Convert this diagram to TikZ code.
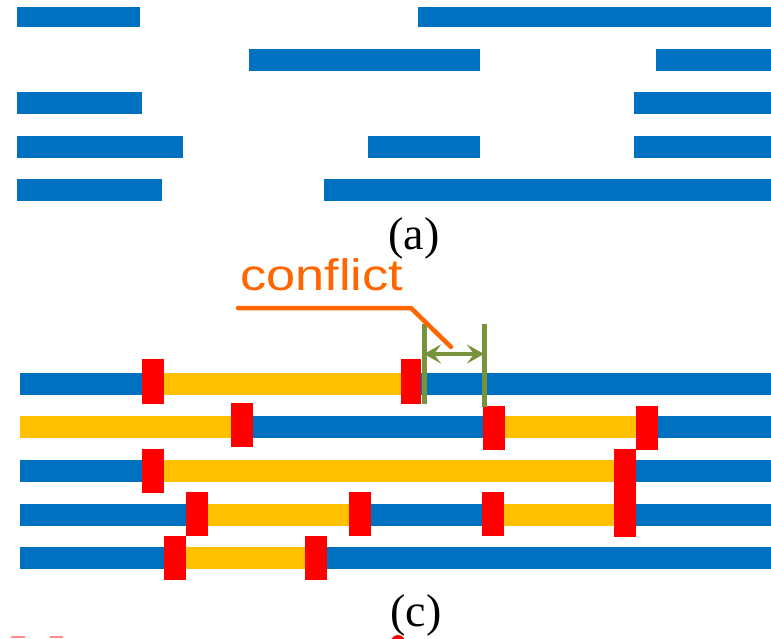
\documentclass[tikz,border=0pt]{standalone}
\usepackage{fontspec}
\setmainfont{Liberation Serif}
\newfontfamily\notefont{Liberation Sans}
\usetikzlibrary{arrows.meta}
\definecolor{segblue}{RGB}{0,112,192}
\definecolor{segyellow}{RGB}{255,192,0}
\definecolor{cutred}{RGB}{255,0,0}
\definecolor{gapgreen}{RGB}{119,147,60}
\definecolor{noteorange}{RGB}{255,102,0}

\begin{document}
\begin{tikzpicture}[x=1pt, y=-1pt,
	seg/.style={fill=segblue},
	busy/.style={fill=segyellow},
	cut/.style={fill=cutred},
	gapline/.style={draw=gapgreen, line width=5pt},
	gaptip/.tip={Stealth[length=17pt,width=19pt,inset=7pt]},
	caption/.style={font=\fontsize{46}{46}\selectfont, inner sep=0pt, anchor=base}]
	\clip (0,0) rectangle (771,638);
	
	% 1. upper panel: free segments
	\fill[seg] (17,7) rectangle (140,27);
	\fill[seg] (418,7) rectangle (771,27);
	\fill[seg] (249,49) rectangle (480,71);
	\fill[seg] (656,49) rectangle (771,71);
	\fill[seg] (17,92) rectangle (142,114);
	\fill[seg] (634,92) rectangle (771,114);
	\fill[seg] (17,136) rectangle (183,158);
	\fill[seg] (368,136) rectangle (480,158);
	\fill[seg] (634,136) rectangle (771,158);
	\fill[seg] (17,179) rectangle (162,201);
	\fill[seg] (324,179) rectangle (771,201);
	\node[caption] (capA) at (414,249) {(a)};
	
	% 2. lower panel: full rows
	\fill[seg] (20,373) rectangle (771,395);
	\fill[seg] (20,416) rectangle (771,438);
	\fill[seg] (20,460) rectangle (771,482);
	\fill[seg] (20,504) rectangle (771,526);
	\fill[seg] (20,547) rectangle (771,569);
	
	% occupied parts
	\fill[busy] (164,373) rectangle (401,395);
	\fill[busy] (20,416) rectangle (231,438);
	\fill[busy] (505,416) rectangle (636,438);
	\fill[busy] (164,460) rectangle (614,482);
	\fill[busy] (208,504) rectangle (349,526);
	\fill[busy] (504,504) rectangle (614,526);
	\fill[busy] (186,547) rectangle (305,569);
	
	% 3. cut marks
	\fill[cut] (142,359) rectangle (164,404);
	\fill[cut] (401,359) rectangle (421,404);
	\fill[cut] (231,403) rectangle (253,447);
	\fill[cut] (483,406) rectangle (505,450);
	\fill[cut] (636,406) rectangle (658,450);
	\fill[cut] (142,449) rectangle (164,493);
	\fill[cut] (614,449) rectangle (636,537);
	\fill[cut] (186,492) rectangle (208,536);
	\fill[cut] (349,492) rectangle (371,536);
	\fill[cut] (482,492) rectangle (504,536);
	\fill[cut] (164,536) rectangle (186,580);
	\fill[cut] (305,536) rectangle (327,580);
	
	% 4. conflict gap and its note
	\coordinate (gapL) at (424,354);
	\coordinate (gapR) at (484,354);
	\draw[gapline] (424,324) -- (424,404);
	\draw[gapline] (484,324) -- (484,407);
	\draw[draw=gapgreen, line width=3.5pt, gaptip-gaptip] (gapL) -- (gapR);
	\draw[noteorange, line width=4.5pt, line cap=round, line join=round] (238,308) -- (411,308) -- (451,347);
	\node[noteorange, font=\notefont\fontsize{44}{44}\selectfont, xscale=1.19, inner sep=0pt, anchor=base west] (note) at (240,290.5) {conflict};
	
	\node[caption] (capC) at (416,626) {(c)};
	
	% 5. pieces cut off at the lower edge
	\fill[cutred] (398,642) circle (7);
	\fill[cutred!45] (11,636) rectangle (25,638);
	\fill[cutred!45] (50,636) rectangle (63,638);
\end{tikzpicture}
\end{document}
